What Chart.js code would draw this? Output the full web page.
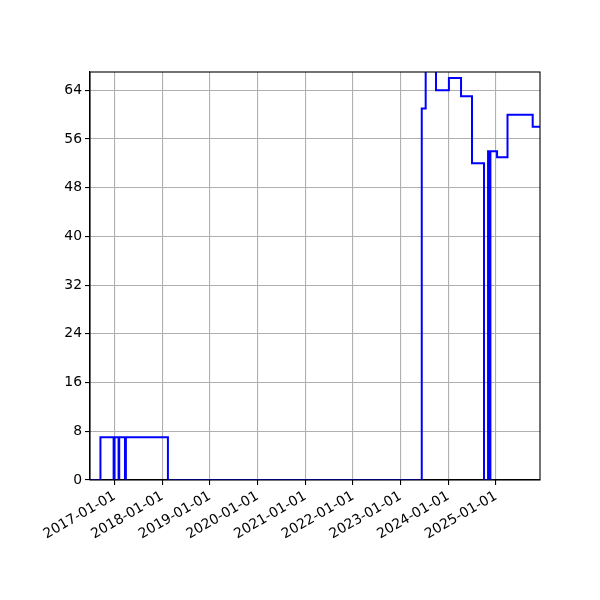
<!DOCTYPE html>
<html>
<head>
<meta charset="utf-8">
<script src="https://cdn.jsdelivr.net/npm/chart.js@4"></script>
<style>
html,body{margin:0;padding:0;background:#fff;}
#wrap{width:600px;height:600px;}
</style>
</head>
<body>
<div id="wrap"><canvas id="c" width="600" height="600"></canvas></div>
<script>
const dates = [
  '2016-06-26','2016-09-14','2016-12-24','2016-12-31','2017-01-31','2017-02-05',
  '2017-03-21','2017-03-28','2018-02-13','2023-06-12','2023-07-12','2023-09-29',
  '2024-01-06','2024-04-08','2024-07-01','2024-10-01','2024-11-01','2024-11-11',
  '2024-11-19','2025-01-09','2025-03-30','2025-10-09','2025-12-04'
];
const values = [
  0,7,0,7,0,7,
  0,7,0,61,70,64,
  66,63,52,0,54,0,
  54,53,60,58,58
];
const yTicks = [0,8,16,24,32,40,48,56,64];
const yMax = 67;
const xTickLabels = ['2017-01-01','2018-01-01','2019-01-01','2020-01-01','2021-01-01',
  '2022-01-01','2023-01-01','2024-01-01','2025-01-01'];

const points = dates.map((d,i)=>({x: Date.parse(d), y: values[i]}));
const FONT = {family: 'DejaVu Sans', size: 13.9};

const frame = {
  id: 'frame',
  afterDatasetsDraw(chart){
    const {ctx, chartArea:a} = chart;
    ctx.save();
    ctx.strokeStyle = '#000';
    ctx.lineWidth = 1.1;
    ctx.strokeRect(a.left, a.top, a.right - a.left, a.bottom - a.top);
    ctx.restore();
  }
};

function fmt(v){
  const d = new Date(v);
  const p = n => String(n).padStart(2,'0');
  return d.getUTCFullYear() + '-' + p(d.getUTCMonth()+1) + '-' + p(d.getUTCDate());
}

new Chart(document.getElementById('c'), {
  type: 'line',
  data: {
    datasets: [{
      data: points,
      borderColor: '#0000ff',
      borderWidth: 2,
      pointRadius: 0,
      stepped: 'before',
      tension: 0,
      fill: false
    }]
  },
  options: {
    responsive: false,
    animation: false,
    devicePixelRatio: 1,
    layout: {padding: {top: 72, right: 60, left: 0, bottom: 0}},
    plugins: {legend: {display: false}, tooltip: {enabled: false}},
    scales: {
      x: {
        type: 'linear',
        min: points[0].x,
        max: points[points.length-1].x,
        afterBuildTicks: s => { s.ticks = xTickLabels.map(t => ({value: Date.parse(t)})); },
        afterFit: s => { s.height = 120; s.paddingLeft = 0; s.paddingRight = 0; },
        ticks: {
          autoSkip: false, minRotation: 30, maxRotation: 30,
          color: '#000', font: FONT, padding: 3,
          callback: v => fmt(v)
        },
        grid: {color: '#b0b0b0', lineWidth: 1.1, tickColor: '#000', tickLength: 5, tickWidth: 1.1},
        border: {color: '#000', width: 1.1}
      },
      y: {
        type: 'linear',
        min: 0,
        max: yMax,
        afterBuildTicks: s => { s.ticks = yTicks.map(v => ({value: v})); },
        afterFit: s => { s.width = 90; s.paddingTop = 0; s.paddingBottom = 0; },
        ticks: {color: '#000', font: FONT, padding: 3},
        grid: {color: '#b0b0b0', lineWidth: 1.1, tickColor: '#000', tickLength: 5, tickWidth: 1.1},
        border: {color: '#000', width: 1.1}
      }
    }
  },
  plugins: [frame]
});
</script>
</body>
</html>
